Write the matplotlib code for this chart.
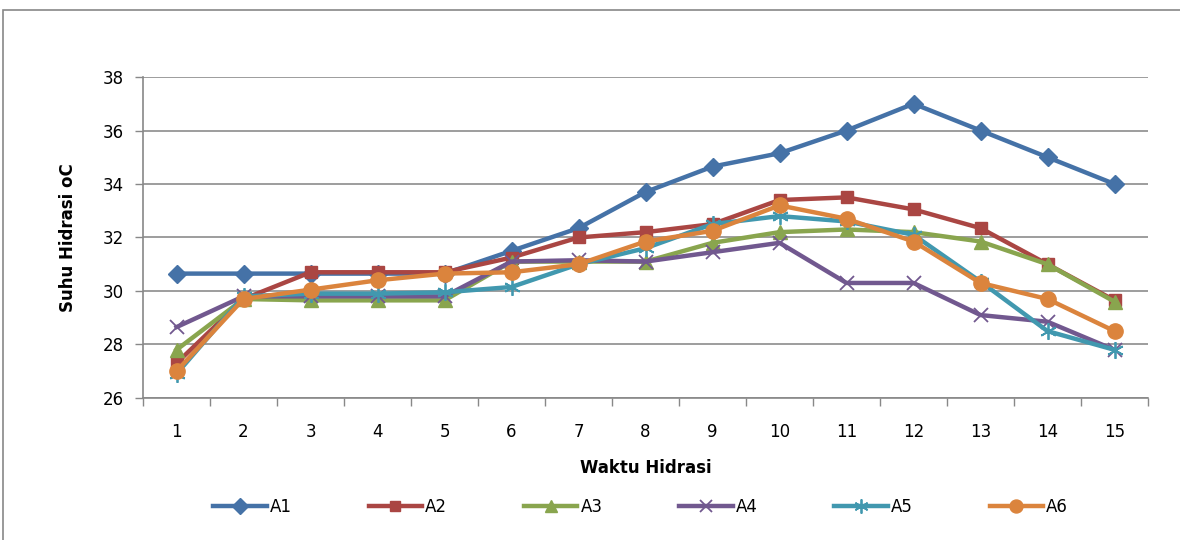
import matplotlib.pyplot as plt
from matplotlib.patches import Rectangle

waktu = list(range(1, 16))

a1 = [30.65, 30.65, 30.65, 30.65, 30.65, 31.5, 32.35, 33.7, 34.65, 35.15, 36.0, 37.0, 36.0, 35.0, 34.0]
a2 = [27.3, 29.7, 30.7, 30.7, 30.7, 31.25, 32.0, 32.2, 32.5, 33.4, 33.5, 33.05, 32.35, 31.0, 29.65]
a3 = [27.8, 29.7, 29.65, 29.65, 29.65, 31.1, 31.1, 31.1, 31.8, 32.2, 32.3, 32.2, 31.85, 31.0, 29.6]
a4 = [28.65, 29.8, 29.8, 29.8, 29.8, 31.1, 31.15, 31.1, 31.45, 31.8, 30.3, 30.3, 29.1, 28.85, 27.8]
a5 = [26.9, 29.8, 29.9, 29.9, 29.95, 30.15, 31.0, 31.6, 32.5, 32.8, 32.6, 32.1, 30.35, 28.5, 27.8]
a6 = [27.0, 29.7, 30.05, 30.4, 30.65, 30.7, 31.0, 31.85, 32.25, 33.2, 32.7, 31.85, 30.3, 29.7, 28.5]

series = [
    ('A1', a1, '#4572A7', 'D', 9),
    ('A2', a2, '#AA4643', 's', 9),
    ('A3', a3, '#89A54E', '^', 10),
    ('A4', a4, '#71588F', 'x', 10),
    ('A5', a5, '#4198AF', (6, 2, 0), 12),
    ('A6', a6, '#DB843D', 'o', 11),
]

fig = plt.figure(figsize=(11.8, 5.4), dpi=100)
ax = fig.add_axes([0.1212, 0.263, 0.8517, 0.5944])

# outer chart frame
fig.patches.append(Rectangle((3 / 1180, -0.05), 1.1, 1.05 - 10 / 540,
                             transform=fig.transFigure, fill=False,
                             edgecolor='#888888', linewidth=1.2))

for name, vals, col, mk, ms in series:
    mew = 1.3 if mk in ('x', (6, 2, 0)) else 1
    ax.plot(waktu, vals, color=col, linewidth=3.2, marker=mk, markersize=ms,
            markerfacecolor=col, markeredgecolor=col, markeredgewidth=mew,
            label=name)

ax.set_xlim(0.5, 15.5)
ax.set_ylim(26, 38)
ax.set_yticks(range(26, 39, 2))
ax.set_xticks(waktu)
ax.set_xticks([i + 0.5 for i in range(0, 16)], minor=True)
ax.tick_params(axis='x', which='major', length=0, pad=18, labelsize=12)
ax.tick_params(axis='x', which='minor', length=6, color='#888888', width=1)
ax.tick_params(axis='y', length=6, color='#888888', width=1, labelsize=12, pad=8)

ax.yaxis.grid(True, color='#8c8c8c', linewidth=1.2)
ax.set_axisbelow(True)
for s in ('top', 'right'):
    ax.spines[s].set_visible(False)
for s in ('left', 'bottom'):
    ax.spines[s].set_color('#888888')
    ax.spines[s].set_linewidth(1.2)

ax.set_xlabel('Waktu Hidrasi', fontsize=12, fontweight='bold', labelpad=13)
ax.set_ylabel('Suhu Hidrasi oC', fontsize=12, fontweight='bold', labelpad=18)

leg = fig.legend(loc='center', bbox_to_anchor=(0.543, 0.062), ncol=6, frameon=False,
                 fontsize=12, handlelength=3.2, columnspacing=4.6, handletextpad=0.2,
                 markerscale=0.85)

fig.savefig('out.png', dpi=100)
